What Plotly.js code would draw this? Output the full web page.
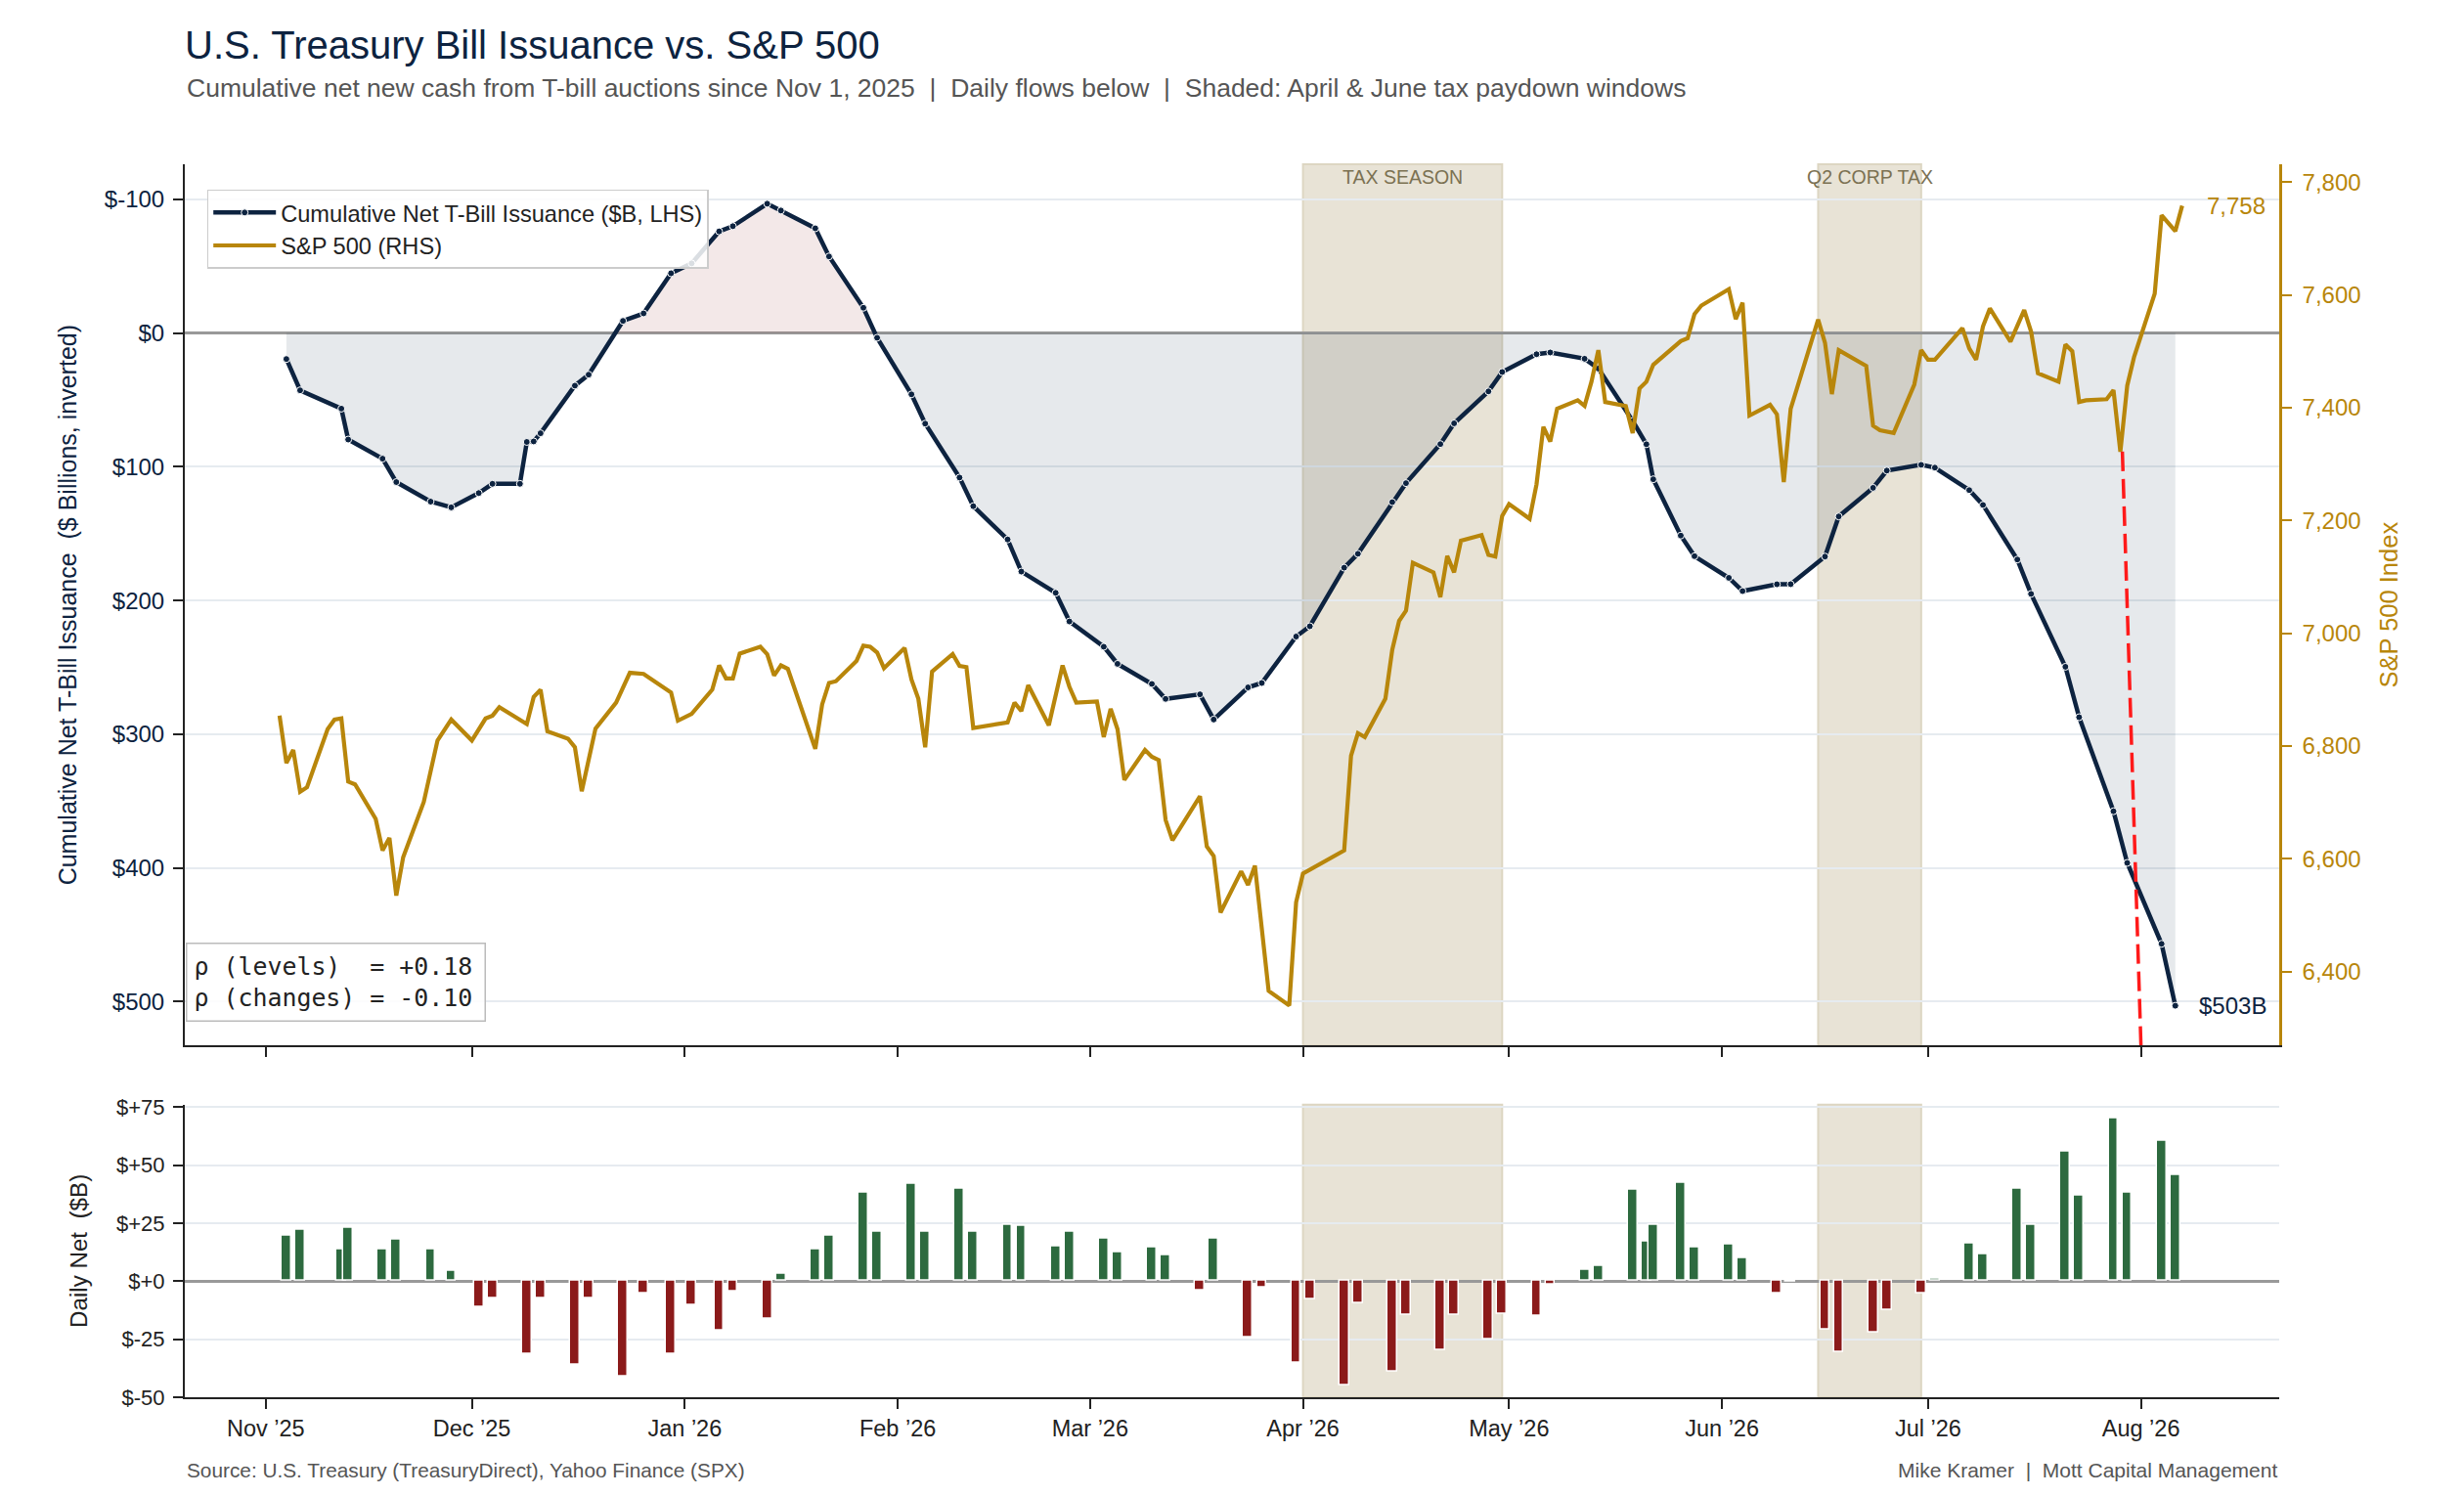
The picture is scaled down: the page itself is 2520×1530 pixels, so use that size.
<!DOCTYPE html>
<html>
<head>
<meta charset="utf-8">
<script src="https://cdn.plot.ly/plotly-3.0.1.min.js"></script>
<style>
html,body{margin:0;padding:0;background:#ffffff;}
#chart{width:2520px;height:1530px;}
</style>
</head>
<body>
<div id="chart"></div>
<script>
// ---------------- DATA ----------------
const cumDates = [
'2025-11-04','2025-11-06','2025-11-12','2025-11-13','2025-11-18','2025-11-20','2025-11-25','2025-11-28',
'2025-12-02','2025-12-04','2025-12-08','2025-12-09','2025-12-10','2025-12-11','2025-12-16','2025-12-18','2025-12-23','2025-12-26','2025-12-30',
'2026-01-02','2026-01-06','2026-01-08','2026-01-13','2026-01-15','2026-01-20','2026-01-22','2026-01-27','2026-01-29',
'2026-02-03','2026-02-05','2026-02-10','2026-02-12','2026-02-17','2026-02-19','2026-02-24','2026-02-26',
'2026-03-03','2026-03-05','2026-03-10','2026-03-12','2026-03-17','2026-03-19','2026-03-24','2026-03-26','2026-03-31',
'2026-04-02','2026-04-07','2026-04-09','2026-04-14','2026-04-16','2026-04-21','2026-04-23','2026-04-28','2026-04-30',
'2026-05-05','2026-05-07','2026-05-12','2026-05-14','2026-05-19','2026-05-21','2026-05-22','2026-05-26','2026-05-28',
'2026-06-02','2026-06-04','2026-06-09','2026-06-11','2026-06-16','2026-06-18','2026-06-23','2026-06-25','2026-06-30',
'2026-07-02','2026-07-07','2026-07-09','2026-07-14','2026-07-16','2026-07-21','2026-07-23','2026-07-28','2026-07-30',
'2026-08-04','2026-08-06'];
const cumValues = [
19.5, 42.9, 56.6, 79.7, 94.0, 111.5, 126.1, 130.4,
119.7, 112.8, 112.8, 81.5, 81.1, 75.0, 39.4, 31.2, -9.0, -14.6, -44.6,
-52.0, -75.9, -79.8, -96.6, -91.5, -78.2, -57.2, -18.8, 3.6,
45.9, 67.8, 108.1, 129.5, 154.4, 178.4, 194.3, 215.7,
234.6, 247.4, 262.4, 273.6, 270.2, 289.0, 265.0, 261.7, 227.0,
219.3, 175.5, 165.1, 126.5, 112.3, 83.1, 67.6, 43.7, 29.2,
15.9, 14.6, 19.3, 26.6, 65.8, 83.2, 109.4, 151.5, 166.9,
183.1, 193.0, 187.9, 187.8, 167.2, 137.2, 115.8, 102.9, 98.6,
100.7, 117.5, 128.6, 169.4, 195.1, 249.6, 287.3, 357.6, 396.2,
456.7, 503.0];

const flowDates = [
'2025-11-04','2025-11-06','2025-11-12','2025-11-13','2025-11-18','2025-11-20','2025-11-25','2025-11-28',
'2025-12-02','2025-12-04','2025-12-09','2025-12-11','2025-12-16','2025-12-18','2025-12-23','2025-12-26','2025-12-30',
'2026-01-02','2026-01-06','2026-01-08','2026-01-13','2026-01-15','2026-01-20','2026-01-22','2026-01-27','2026-01-29',
'2026-02-03','2026-02-05','2026-02-10','2026-02-12','2026-02-17','2026-02-19','2026-02-24','2026-02-26',
'2026-03-03','2026-03-05','2026-03-10','2026-03-12','2026-03-17','2026-03-19','2026-03-24','2026-03-26','2026-03-31',
'2026-04-02','2026-04-07','2026-04-09','2026-04-14','2026-04-16','2026-04-21','2026-04-23','2026-04-28','2026-04-30',
'2026-05-05','2026-05-07','2026-05-12','2026-05-14','2026-05-19','2026-05-21','2026-05-22','2026-05-26','2026-05-28',
'2026-06-02','2026-06-04','2026-06-09','2026-06-11','2026-06-16','2026-06-18','2026-06-23','2026-06-25','2026-06-30',
'2026-07-02','2026-07-07','2026-07-09','2026-07-14','2026-07-16','2026-07-21','2026-07-23','2026-07-28','2026-07-30',
'2026-08-04','2026-08-06'];
const flowValues = [
19.5, 22.3, 13.5, 22.8, 13.5, 17.7, 13.5, 4.5,
-11.1, -7.2, -31.3, -7.2, -36.0, -7.2, -40.9, -5.1, -31.3,
-10.3, -21.1, -4.4, -16.2, 3.2, 13.5, 19.7, 38.3, 21.3,
41.7, 21.3, 39.6, 21.3, 24.4, 23.6, 14.9, 21.3,
18.5, 12.5, 14.7, 11.0, -3.9, 18.5, -24.3, -2.9, -35.1,
-7.7, -44.9, -9.3, -38.8, -14.5, -29.5, -14.7, -24.9, -14.0,
-14.9, -1.4, 4.9, 6.7, 39.2, 16.9, 24.4, 42.4, 14.7,
15.6, 9.7, -5.1, -0.3, -20.8, -30.5, -22.1, -12.4, -5.1,
1.1, 16.4, 11.5, 40.0, 24.4, 55.6, 36.7, 69.9, 37.9,
60.3, 45.5];

const spxDates = [
'2025-11-03','2025-11-04','2025-11-05','2025-11-06','2025-11-07','2025-11-10','2025-11-11','2025-11-12','2025-11-13','2025-11-14','2025-11-17','2025-11-18','2025-11-19','2025-11-20','2025-11-21','2025-11-24','2025-11-26','2025-11-28',
'2025-12-01','2025-12-03','2025-12-04','2025-12-05','2025-12-09','2025-12-10','2025-12-11','2025-12-12','2025-12-15','2025-12-16','2025-12-17','2025-12-19','2025-12-22','2025-12-24','2025-12-26','2025-12-30','2025-12-31',
'2026-01-02','2026-01-05','2026-01-06','2026-01-07','2026-01-08','2026-01-09','2026-01-12','2026-01-13','2026-01-14','2026-01-15','2026-01-16','2026-01-20','2026-01-21','2026-01-22','2026-01-23','2026-01-26','2026-01-27','2026-01-28','2026-01-29','2026-01-30',
'2026-02-02','2026-02-03','2026-02-04','2026-02-05','2026-02-06','2026-02-09','2026-02-10','2026-02-11','2026-02-12','2026-02-17','2026-02-18','2026-02-19','2026-02-20','2026-02-23','2026-02-25','2026-02-26','2026-02-27',
'2026-03-02','2026-03-03','2026-03-04','2026-03-05','2026-03-06','2026-03-09','2026-03-10','2026-03-11','2026-03-12','2026-03-13','2026-03-17','2026-03-18','2026-03-19','2026-03-20','2026-03-23','2026-03-24','2026-03-25','2026-03-27','2026-03-30','2026-03-31',
'2026-04-01','2026-04-07','2026-04-08','2026-04-09','2026-04-10','2026-04-13','2026-04-14','2026-04-15','2026-04-16','2026-04-17','2026-04-20','2026-04-21','2026-04-22','2026-04-23','2026-04-24','2026-04-27','2026-04-28','2026-04-29','2026-04-30',
'2026-05-01','2026-05-04','2026-05-05','2026-05-06','2026-05-07','2026-05-08','2026-05-11','2026-05-12','2026-05-13','2026-05-14','2026-05-15','2026-05-18','2026-05-19','2026-05-20','2026-05-21','2026-05-22','2026-05-26','2026-05-27','2026-05-28','2026-05-29',
'2026-06-01','2026-06-02','2026-06-03','2026-06-04','2026-06-05','2026-06-08','2026-06-09','2026-06-10','2026-06-11','2026-06-15','2026-06-16','2026-06-17','2026-06-18','2026-06-22','2026-06-23','2026-06-24','2026-06-26','2026-06-29','2026-06-30',
'2026-07-01','2026-07-02','2026-07-06','2026-07-07','2026-07-08','2026-07-09','2026-07-10','2026-07-13','2026-07-15','2026-07-16','2026-07-17','2026-07-20','2026-07-21','2026-07-22','2026-07-23','2026-07-24','2026-07-27','2026-07-28','2026-07-29','2026-07-30','2026-07-31',
'2026-08-03','2026-08-04','2026-08-06','2026-08-07'];
const spxValues = [
6854,6770,6793,6719,6727,6830,6847,6849,6737,6732,6671,6615,6637,6535,6603,6701,6810,6847,
6810,6849,6854,6869,6839,6887,6900,6826,6813,6798,6720,6831,6877,6930,6928,6895,6845,
6857,6900,6943,6920,6920,6964,6976,6963,6925,6943,6937,6795,6874,6912,6915,6951,6978,6976,6966,6938,
6974,6918,6884,6798,6932,6963,6942,6940,6832,6842,6877,6862,6908,6837,6943,6905,6877,
6879,6816,6866,6830,6740,6793,6781,6775,6669,6633,6711,6622,6605,6505,6578,6554,6588,6366,6340,6523,
6574,6615,6783,6823,6816,6884,6971,7022,7040,7125,7108,7064,7137,7108,7164,7174,7139,7136,7208,
7229,7203,7264,7366,7340,7398,7413,7403,7446,7502,7410,7403,7355,7434,7446,7476,7518,7523,7566,7581,
7602,7610,7557,7586,7386,7405,7388,7268,7398,7556,7515,7424,7502,7474,7368,7360,7355,7441,7502,
7485,7485,7541,7505,7485,7544,7576,7517,7573,7535,7461,7446,7512,7500,7410,7413,7415,7431,7322,7439,7490,
7602,7741,7713,7758];

const bandLabels = ['TAX SEASON', 'Q2 CORP TAX'];
const bandStarts = ['2026-04-01', '2026-06-15'];
const bandEnds   = ['2026-04-30', '2026-06-30'];

const leftTickVals = [-100, 0, 100, 200, 300, 400, 500];
const leftTickText = ['$-100', '$0', '$100', '$200', '$300', '$400', '$500'];
const spxTickVals  = [6400, 6600, 6800, 7000, 7200, 7400, 7600, 7800];
const flowTickVals = [-50, -25, 0, 25, 50, 75];
const flowTickText = ['$-50', '$-25', '$+0', '$+25', '$+50', '$+75'];

const corrLabels = ['\u03c1 (levels)\u00a0\u00a0', '\u03c1 (changes)\u00a0'];
const corrValues = [0.18, -0.10];

const redLineDates  = ['2026-07-29 07:00', '2026-08-01 00:00'];
const redLineValues = [7322, 6269];

// ---------------- STYLE ----------------
const NAVY = '#0d2340';
const GOLD = '#b8860b';
const GREEN = '#2d6a3f';
const RED = '#8b1a1a';
const GRID = '#e6ebf0';
const FONT = 'Liberation Sans, Arial, Helvetica, sans-serif';
const MONO = 'DejaVu Sans Mono, Liberation Mono, monospace';

// split cumulative series at zero for the two-colour fill
const toMs = d => Date.parse(d.replace(' ', 'T') + (d.length === 10 ? 'T00:00:00Z' : ':00Z'));
function splitAtZero(xs, ys, keepPositive) {
  const X = [], Y = [];
  for (let i = 0; i < xs.length; i++) {
    const t = toMs(xs[i]), v = ys[i];
    if (i > 0) {
      const t0 = toMs(xs[i - 1]), v0 = ys[i - 1];
      if ((v0 > 0 && v < 0) || (v0 < 0 && v > 0)) {
        X.push(t0 + (t - t0) * (0 - v0) / (v - v0)); Y.push(0);
      }
    }
    X.push(t); Y.push(keepPositive ? Math.max(v, 0) : Math.min(v, 0));
  }
  return {X, Y};
}
const posPart = splitAtZero(cumDates, cumValues, true);
const negPart = splitAtZero(cumDates, cumValues, false);

const DAY = 86400000;

const traces = [
  {x: posPart.X, y: posPart.Y, xaxis: 'x', yaxis: 'y', type: 'scatter', mode: 'none',
   fill: 'tozeroy', fillcolor: 'rgba(13,35,64,0.10)', hoverinfo: 'skip', showlegend: false},
  {x: negPart.X, y: negPart.Y, xaxis: 'x', yaxis: 'y', type: 'scatter', mode: 'none',
   fill: 'tozeroy', fillcolor: 'rgba(139,26,26,0.10)', hoverinfo: 'skip', showlegend: false},
  {x: cumDates, y: cumValues, xaxis: 'x', yaxis: 'y', type: 'scatter', mode: 'lines+markers',
   name: 'Cumulative Net T-Bill Issuance ($B, LHS)',
   line: {color: NAVY, width: 4.5},
   marker: {color: NAVY, size: 7, line: {color: '#ffffff', width: 1}}},
  {x: flowDates, y: flowValues, xaxis: 'x2', yaxis: 'y3', type: 'bar', showlegend: false,
   width: 1.4 * DAY,
   marker: {color: flowValues.map(v => v >= 0 ? GREEN : RED), line: {color: '#ffffff', width: 1.5}}},
  {x: spxDates, y: spxValues, xaxis: 'x', yaxis: 'y2', type: 'scatter', mode: 'lines',
   name: 'S&P 500 (RHS)', line: {color: GOLD, width: 4.2}},
  {x: redLineDates, y: redLineValues, xaxis: 'x', yaxis: 'y2', type: 'scatter', mode: 'lines',
   showlegend: false, hoverinfo: 'skip', line: {color: '#ff1a1a', width: 3.5, dash: '20px,8px'}}
];

const shapes = [];
const annotations = [];
bandStarts.forEach((s, i) => {
  shapes.push({type: 'rect', xref: 'x', yref: 'y domain', x0: s, x1: bandEnds[i], y0: 0, y1: 1,
    fillcolor: '#e8e3d6', line: {color: '#ddd6c2', width: 2}, layer: 'below'});
  shapes.push({type: 'rect', xref: 'x2', yref: 'y3 domain', x0: s, x1: bandEnds[i], y0: 0, y1: 1,
    fillcolor: '#e8e3d6', line: {color: '#ddd6c2', width: 2}, layer: 'below'});
  annotations.push({xref: 'x', yref: 'y domain', x: (toMs(s) + toMs(bandEnds[i])) / 2, y: 1,
    xanchor: 'center', yanchor: 'top', text: bandLabels[i], showarrow: false,
    font: {family: FONT, size: 19.5, color: '#7b7152'}});
});

// subtitle
annotations.push({xref: 'paper', yref: 'paper', x: 0, y: 1.0622, xanchor: 'left', yanchor: 'middle',
  showarrow: false,
  text: 'Cumulative net new cash from T-bill auctions since Nov 1, 2025\u00a0\u00a0|\u00a0\u00a0Daily flows below\u00a0\u00a0|\u00a0\u00a0Shaded: April &amp; June tax paydown windows',
  font: {family: FONT, size: 26.5, color: '#555555'}});
// footers
annotations.push({xref: 'paper', yref: 'paper', x: 0, y: -0.059, xanchor: 'left', yanchor: 'middle',
  showarrow: false, text: 'Source: U.S. Treasury (TreasuryDirect), Yahoo Finance (SPX)',
  font: {family: FONT, size: 20.8, color: '#555555'}});
annotations.push({xref: 'paper', yref: 'paper', x: 1, y: -0.059, xanchor: 'right', yanchor: 'middle',
  showarrow: false, text: 'Mike Kramer\u00a0\u00a0|\u00a0\u00a0Mott Capital Management',
  font: {family: FONT, size: 21, color: '#555555'}});
// end labels
const lastSpx = spxValues[spxValues.length - 1];
annotations.push({xref: 'x', yref: 'y2', x: spxDates[spxDates.length - 1], y: lastSpx,
  xanchor: 'left', yanchor: 'middle', xshift: 23, showarrow: false,
  text: lastSpx.toLocaleString('en-US'), font: {family: FONT, size: 24, color: GOLD}});
const lastCum = cumValues[cumValues.length - 1];
annotations.push({xref: 'x', yref: 'y', x: cumDates[cumDates.length - 1], y: lastCum,
  xanchor: 'left', yanchor: 'middle', xshift: 22, showarrow: false,
  text: '$' + Math.round(lastCum) + 'B', font: {family: FONT, size: 24, color: NAVY}});
// correlation box
const corrText = corrLabels.map((l, i) => l + '= ' + (corrValues[i] >= 0 ? '+' : '-') + Math.abs(corrValues[i]).toFixed(2)).join('<br>');
annotations.push({xref: 'paper', yref: 'paper', x: 0.0005, y: 0.3047, xanchor: 'left', yanchor: 'bottom',
  showarrow: false, align: 'left', text: corrText, width: 290, height: 64,
  bgcolor: 'rgba(255,255,255,0.85)', bordercolor: '#bbbbbb', borderwidth: 1.5, borderpad: 7,
  font: {family: MONO, size: 24.9, color: '#222222'}});

const layout = {
  width: 2520, height: 1530,
  margin: {l: 189, r: 189, t: 168, b: 101, pad: 0},
  paper_bgcolor: '#ffffff', plot_bgcolor: 'rgba(0,0,0,0)',
  font: {family: FONT, size: 24, color: '#222222'},
  hovermode: false,
  title: {text: 'U.S. Treasury Bill Issuance vs. S&amp;P 500', xref: 'paper', x: 0, xanchor: 'left',
    yref: 'container', y: 0.9699, yanchor: 'middle', font: {family: FONT, size: 40, color: NAVY}},
  showlegend: true,
  legend: {x: 0.0106, y: 0.9794, xanchor: 'left', yanchor: 'top', bgcolor: 'rgba(255,255,255,0.85)',
    bordercolor: '#cccccc', borderwidth: 1.5, font: {family: FONT, size: 23.6, color: '#222222'},
    itemwidth: 64, tracegroupgap: 0},
  xaxis: {domain: [0, 1], anchor: 'y', type: 'date', range: ['2025-10-20 05:00', '2026-08-21 03:00'],
    tick0: '2025-11-01', dtick: 'M1', ticks: 'outside', ticklen: 10, tickwidth: 2, tickcolor: '#222222',
    showticklabels: false, showline: true, linecolor: '#222222', linewidth: 2, showgrid: false,
    zeroline: false, automargin: false},
  yaxis: {domain: [0.2852, 1], anchor: 'x', range: [532.8, -126.1], tickvals: leftTickVals, ticktext: leftTickText,
    ticks: 'outside', ticklen: 10, tickwidth: 2, tickcolor: '#222222', ticklabelstandoff: 4,
    tickfont: {family: FONT, size: 24, color: NAVY},
    showline: true, linecolor: '#222222', linewidth: 2, showgrid: true, gridcolor: GRID, gridwidth: 2,
    zeroline: true, zerolinecolor: '#999999', zerolinewidth: 2.5, automargin: false,
    title: {text: 'Cumulative Net T-Bill Issuance\u00a0\u00a0($ Billions, inverted)', standoff: 21,
      font: {family: FONT, size: 25, color: NAVY}}},
  yaxis2: {overlaying: 'y', side: 'right', anchor: 'x', range: [6269, 7831.5], tickvals: spxTickVals,
    tickformat: ',d', ticks: 'outside', ticklen: 10, tickwidth: 2, tickcolor: GOLD, ticklabelstandoff: 6,
    tickfont: {family: FONT, size: 24, color: GOLD}, showline: true, linecolor: GOLD, linewidth: 2.5,
    showgrid: false, zeroline: false, automargin: false,
    title: {text: 'S&amp;P 500 Index', standoff: 21, font: {family: FONT, size: 25.5, color: GOLD}}},
  xaxis2: {domain: [0, 1], anchor: 'y3', type: 'date', matches: 'x',
    tick0: '2025-11-01', dtick: 'M1', tickformat: '%b \u2019%y', ticks: 'outside', ticklen: 10, tickwidth: 2,
    tickcolor: '#222222', tickfont: {family: FONT, size: 23.5, color: '#222222'},
    showline: true, linecolor: '#222222', linewidth: 2, showgrid: false, zeroline: false, automargin: false},
  yaxis3: {domain: [0, 0.2373], anchor: 'x2', range: [-50, 76], tickvals: flowTickVals, ticktext: flowTickText,
    ticks: 'outside', ticklen: 10, tickwidth: 2, tickcolor: '#222222', ticklabelstandoff: 4,
    tickfont: {family: FONT, size: 22, color: '#222222'},
    showline: true, linecolor: '#222222', linewidth: 2, showgrid: true, gridcolor: GRID, gridwidth: 2,
    zeroline: true, zerolinecolor: '#999999', zerolinewidth: 2.5, automargin: false,
    title: {text: 'Daily Net\u00a0\u00a0($B)', standoff: 23, font: {family: FONT, size: 24.2, color: '#222222'}}},
  bargap: 0,
  shapes: shapes,
  annotations: annotations
};

Plotly.newPlot('chart', traces, layout, {displayModeBar: false, responsive: false});
</script>
</body>
</html>
